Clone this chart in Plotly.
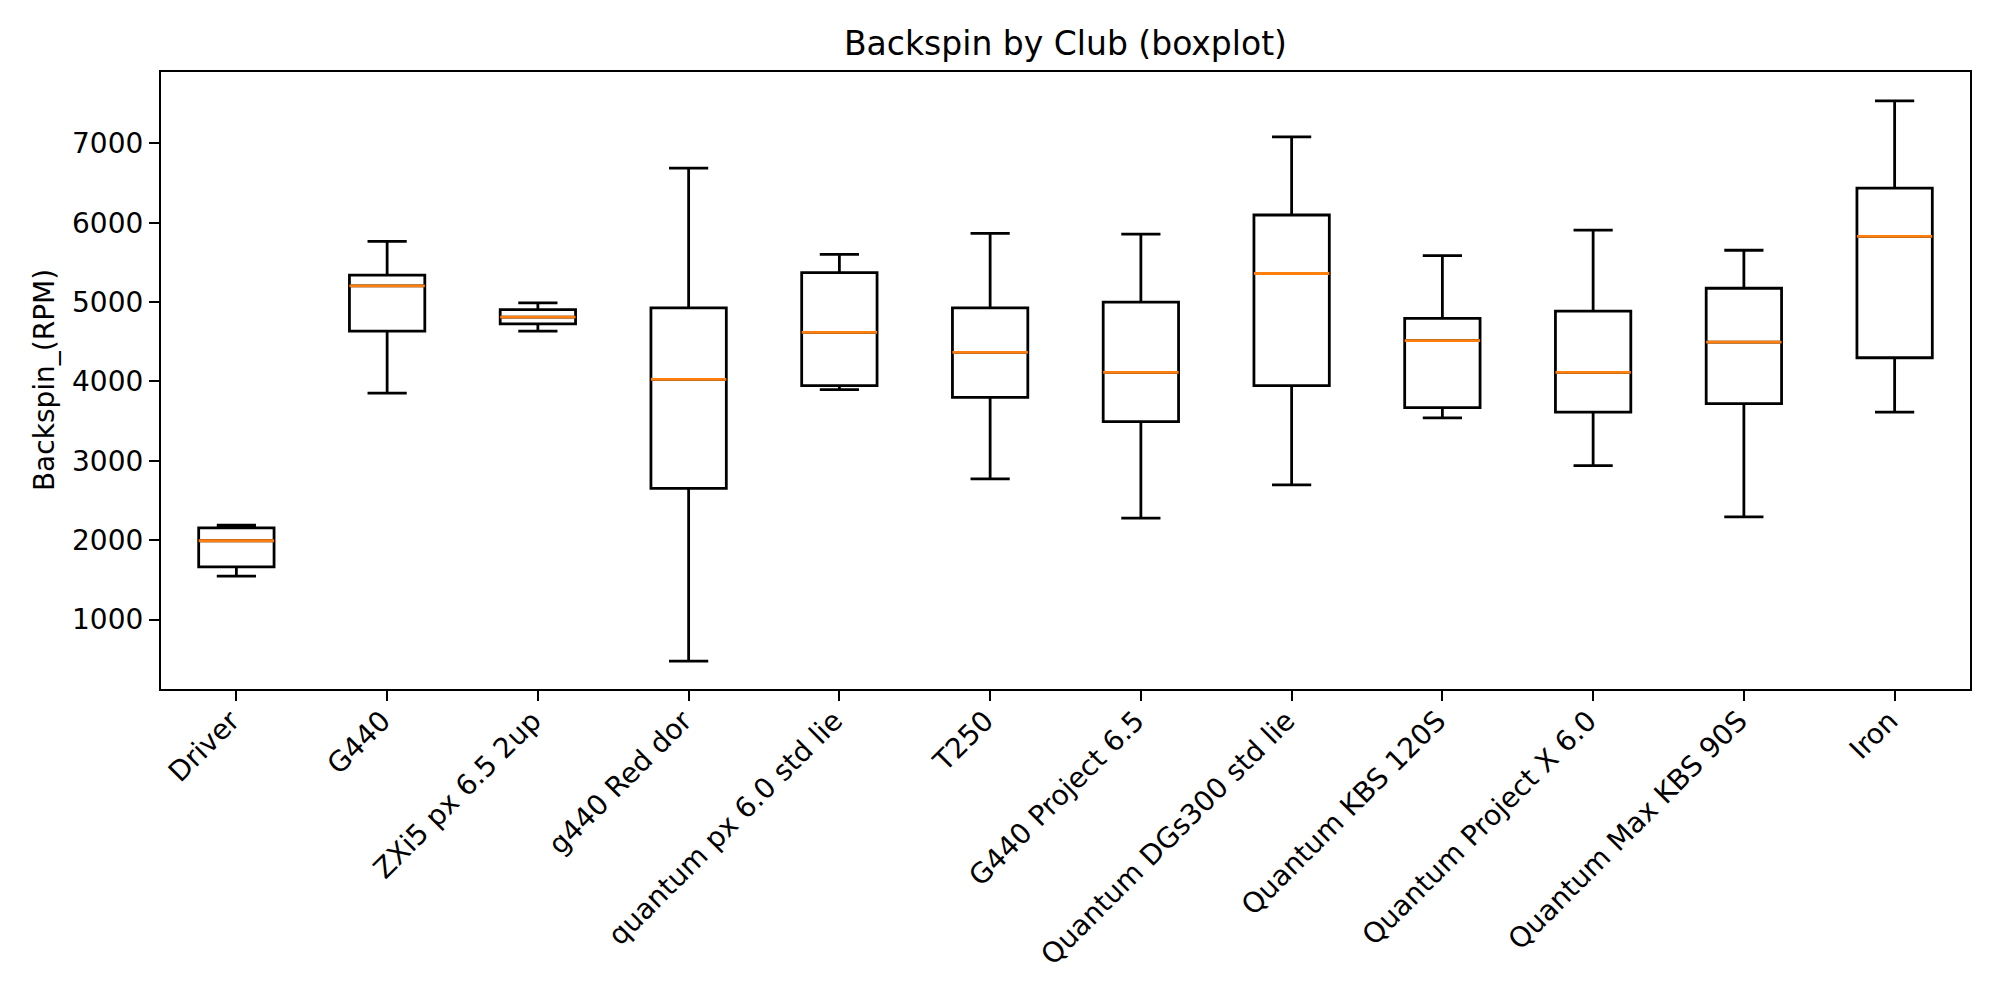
import plotly.graph_objects as go

clubs = ["Driver", "G440", "ZXi5 px 6.5 2up", "g440 Red dor", "quantum px 6.0 std lie",
         "T250", "G440 Project 6.5", "Quantum DGs300 std lie", "Quantum KBS 120S",
         "Quantum Project X 6.0", "Quantum Max KBS 90S", "Iron"]
positions = list(range(1, len(clubs) + 1))

whisker_low = [1546, 3853, 4636, 475, 3897, 2774, 2279, 2696, 3542, 2939, 2294, 3614]
q1 = [1665, 4636, 4726, 2652, 3949, 3799, 3495, 3949, 3670, 3614, 3722, 4299]
median = [1993, 5204, 4810, 4026, 4619, 4366, 4114, 5361, 4516, 4114, 4495, 5830]
q3 = [2156, 5340, 4906, 4928, 5371, 4928, 5000, 6098, 4794, 4887, 5175, 6438]
whisker_high = [2189, 5767, 4991, 6688, 5603, 5866, 5856, 7082, 5587, 5907, 5654, 7535]

y_ticks = [1000, 2000, 3000, 4000, 5000, 6000, 7000]

LW = 2.78
fig = go.Figure()
fig.add_trace(go.Box(
    x=positions, q1=q1, median=median, q3=q3,
    lowerfence=whisker_low, upperfence=whisker_high,
    width=0.5, whiskerwidth=0.52, boxpoints=False,
    line=dict(color="black", width=LW), fillcolor="rgba(255,255,255,0)",
    showlegend=False, hoverinfo="skip",
))
fig.add_trace(go.Box(
    x=positions, q1=median, median=median, q3=median,
    lowerfence=median, upperfence=median,
    width=0.5, whiskerwidth=0, boxpoints=False,
    line=dict(color="#ff7f0e", width=LW), fillcolor="rgba(255,255,255,0)",
    showlegend=False, hoverinfo="skip",
))

font = "DejaVu Sans"
fig.update_layout(
    width=2000, height=1000,
    margin=dict(l=153, r=38, t=64, b=319),
    paper_bgcolor="white", plot_bgcolor="white",
    font=dict(family=font, size=28, color="black"),
    boxmode="overlay",
    title=dict(text="Backspin by Club (boxplot)", x=0.5, xref="paper",
               y=1 - 35 / 1000, yref="container", yanchor="middle", xanchor="center",
               font=dict(family=font, size=33, color="black")),
    xaxis=dict(range=[0.5, 12.5], tickvals=positions, ticktext=clubs, tickangle=-45,
               ticklabelstandoff=-8, ticklabelshift=-5,
               showgrid=False, zeroline=False, showline=True, linecolor="black",
               linewidth=2.2, mirror=True, ticks="outside", ticklen=10, tickwidth=2.2,
               tickcolor="black", tickfont=dict(family=font, size=28, color="black")),
    yaxis=dict(range=[125, 7900], tickvals=y_ticks, showgrid=False, zeroline=False,
               showline=True, linecolor="black", linewidth=2.2, mirror=True,
               ticks="outside", ticklen=10, tickwidth=2.2, tickcolor="black",
               tickfont=dict(family=font, size=28, color="black")),
    annotations=[dict(text="Backspin_(RPM)", textangle=-90, xref="paper", yref="paper",
                      x=(44.6 - 161) / 1809, y=0.5, xanchor="center", yanchor="middle",
                      showarrow=False, font=dict(family=font, size=28, color="black"))],
)

fig.write_html("out.html")
